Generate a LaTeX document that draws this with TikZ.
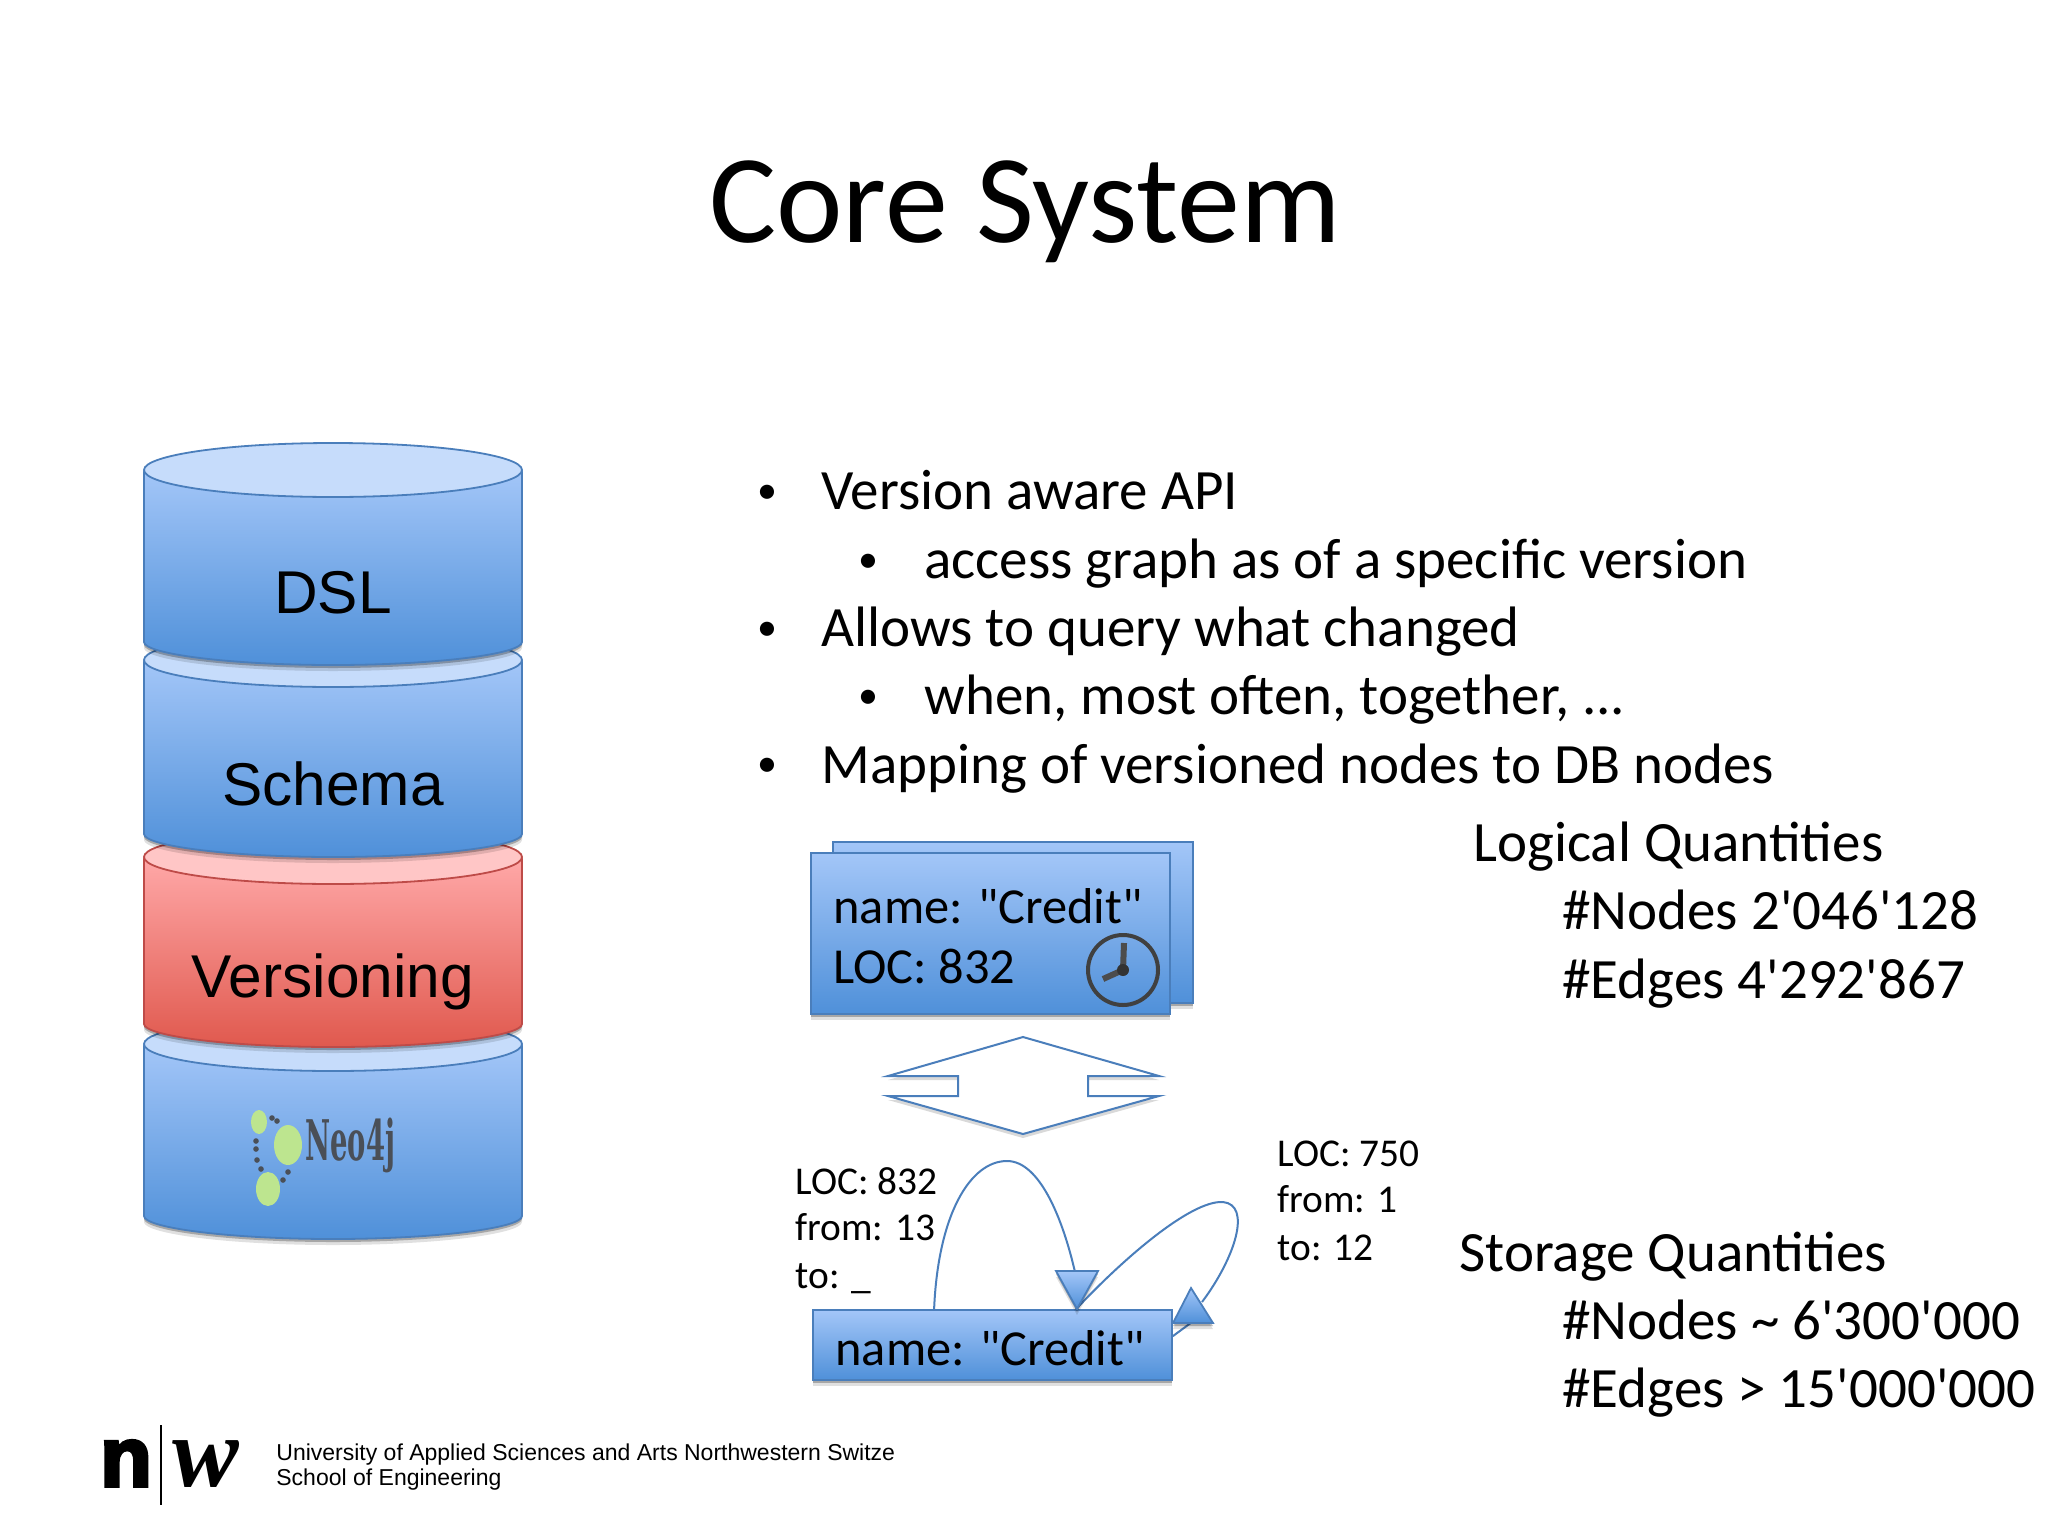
\documentclass[tikz,border=0pt]{standalone}
\usepackage{fontspec}
\usetikzlibrary{shadows,calc}
\newfontfamily\carl{Carlito}
\newfontfamily\arl{Liberation Sans}
\newfontfamily\tms{Liberation Serif}
\newfontfamily\dvs{DejaVu Serif}
\newfontfamily\heavy{Liberation Sans}[UprightFont=* Bold,FakeBold=4.5]
\definecolor{bluetop}{HTML}{A3C6F8}
\definecolor{bluebot}{HTML}{4F90D9}
\definecolor{blueln}{HTML}{4A7EBB}
\definecolor{bluecap}{HTML}{C6DCFB}
\definecolor{redtop}{HTML}{FFA8A8}
\definecolor{redbot}{HTML}{E0594E}
\definecolor{redln}{HTML}{BE4B48}
\definecolor{redcap}{HTML}{FFC6C6}
\definecolor{neogreen}{HTML}{BDE58F}
\definecolor{neotext}{HTML}{4A4F57}
\tikzset{
  softshadow/.style={
    drop shadow={shadow xshift=0pt,shadow yshift=-3pt,opacity=.12,fill=black},
    drop shadow={shadow xshift=0pt,shadow yshift=-1.5pt,opacity=.25,fill=black}},
  bluebody/.style={top color=bluetop,bottom color=bluebot,draw=blueln,line width=.9pt},
  redbody/.style={top color=redtop,bottom color=redbot,draw=redln,line width=.9pt},
  box/.style={bluebody,rectangle,inner sep=0pt,softshadow},
  txt/.style={anchor=base west,inner sep=0pt,text=black},
  body/.style={txt,font=\carl\fontsize{28.5}{28.5}\selectfont},
  dot/.style={txt,font=\carl\fontsize{20}{20}\selectfont},
  small/.style={txt,font=\carl\fontsize{19.7}{19.7}\selectfont},
  boxtxt/.style={txt,font=\carl\fontsize{25.2}{25.2}\selectfont},
  cyltxt/.style={anchor=base,inner sep=0pt,text=black,font=\arl\fontsize{30.2}{30.2}\selectfont},
  wire/.style={draw=blueln,line width=1pt},
  tip/.style={bluebody,softshadow},
  hollow/.style={draw=blueln,line width=1pt,fill=white,drop shadow={shadow xshift=0pt,shadow yshift=-2pt,opacity=.15,fill=black}},
}
% #1 side top, #2 side bottom, #3 body style, #4 line colour, #5 cap fill
\newcommand{\stackcyl}[5]{%
  \path[#3,softshadow,rounded corners=1pt] (144,#1) -- (144,#2) arc[start angle=180,end angle=360,x radius=94.5pt,y radius=12.5pt] -- (522,#1) -- cycle;
  \draw[draw=#4,line width=.9pt,fill=#5] (333,#1) ellipse[x radius=94.5pt,y radius=13.5pt];
}
\begin{document}
\begin{tikzpicture}[x=.5pt,y=-.5pt]
\useasboundingbox (0,0) rectangle (2048,1536);
\fill[white] (0,0) rectangle (2048,1536);

\node[txt,font=\carl\fontsize{63}{63}\selectfont] (title) at (709,242) {Core System};

% stacked cylinders
\stackcyl{1044}{1214}{bluebody}{blueln}{bluecap}
\stackcyl{857}{1022}{redbody}{redln}{redcap}
\stackcyl{660}{832}{bluebody}{blueln}{bluecap}
\stackcyl{470}{640}{bluebody}{blueln}{bluecap}
\node[cyltxt] (dsl) at (333,613) {DSL};
\node[cyltxt] (schema) at (333,805) {Schema};
\node[cyltxt] (versioning) at (333,997) {Versioning};

% Neo4j logo
\fill[neogreen] (259,1122) ellipse[x radius=4pt,y radius=6pt];
\fill[neogreen] (288,1145) ellipse[x radius=7pt,y radius=10pt];
\fill[neogreen] (268,1189) ellipse[x radius=6pt,y radius=8.5pt];
\foreach \a/\b in {272/1118,277/1121,256/1141,256/1149,257/1160,261/1169,283/1180,288/1172}
  \fill[neotext] (\a,\b) circle[radius=1.4pt];
\node[anchor=base west,inner sep=0pt,text=neotext] (neo) at (305,1160) {\scalebox{.49}[1]{\dvs\bfseries\fontsize{28}{28}\selectfont Neo4j}};

% bullets
\node[dot] (b1) at (757,503) {•};
\node[body] (l1) at (821,509) {Version aware API};
\node[dot] (b2) at (858,572) {•};
\node[body] (l2) at (924,578) {access graph as of a specific version};
\node[dot] (b3) at (757,640) {•};
\node[body] (l3) at (821,646) {Allows to query what changed};
\node[dot] (b4) at (858,708) {•};
\node[body] (l4) at (924,714) {when, most often, together, ...};
\node[dot] (b5) at (757,776) {•};
\node[body] (l5) at (821,783) {Mapping of versioned nodes to DB nodes};

% quantities
\node[body] (q1) at (1473,861) {Logical Quantities};
\node[body] (q2) at (1562,929) {\#Nodes 2'046'128};
\node[body] (q3) at (1562,998) {\#Edges 4'292'867};
\node[body] (q4) at (1459,1271) {Storage Quantities};
\node[body] (q5) at (1562,1339) {\#Nodes \char`\~{} 6'300'000};
\node[body] (q6) at (1562,1407) {\#Edges > 15'000'000};

% versioned node
\node[box,minimum width=180pt,minimum height=80.5pt] (back) at (1013,922.5) {};
\node[box,minimum width=179.5pt,minimum height=80.5pt] (front) at (990.5,933.5) {};
\node[boxtxt] (n1) at (833,923) {name: "Credit"};
\node[boxtxt] (n2) at (833,983) {LOC: 832};
\node[circle,draw=black!75,line width=2pt,minimum size=35pt,inner sep=0pt] (clock) at (1123,970) {};
\coordinate (hand1) at (1124,943);
\coordinate (hand2) at (1103,979);
\draw[black!70,line width=3pt] (hand1) -- (clock.center) -- (hand2);
\fill[black!80] (clock.center) circle[radius=3pt];

% double arrow
\path[hollow,line join=miter] (888,1076) -- (1023,1037) -- (1159,1076) -- (1088,1076) -- (1088,1096) -- (1159,1096) -- (1023,1134) -- (888,1096) -- (958,1096) -- (958,1076) -- cycle;

% DB node
\node[box,minimum width=179.5pt,minimum height=35pt] (db) at (992.5,1345) {};
\node[boxtxt] (n3) at (835,1365) {name: "Credit"};
\coordinate (a1) at ($(db.north west)+(122,0)$);
\coordinate (a2) at ($(db.north west)+(264,0)$);
\coordinate (a3) at ($(db.north east)+(0,27)$);
\draw[wire] (a1) .. controls (938,1215) and (970,1161) .. (1007,1161) .. controls (1040,1161) and (1063,1220) .. (1075,1272);
\draw[wire] (a2) .. controls (1120,1262) and (1190,1200) .. (1223,1202) .. controls (1252,1205) and (1235,1258) .. (1202,1302);
\draw[wire] (a3) -- (1192,1322);
\path[tip] (1056,1271) -- (1098,1271) -- (1077,1309) -- cycle;
\path[tip] (1191,1288) -- (1213,1323) -- (1173,1323) -- cycle;

\node[small] (s1) at (795,1194) {LOC: 832};
\node[small] (s2) at (795,1240) {from: 13};
\node[small] (s3) at (795,1288) {to: \_};
\node[small] (s4) at (1277,1166) {LOC: 750};
\node[small] (s5) at (1277,1212) {from: 1};
\node[small] (s6) at (1277,1260) {to: 12};

% footer logo
\node[anchor=base west,inner sep=0pt,font=\heavy\fontsize{42}{42}\selectfont] (logon) at (100,1486) {n};
\coordinate (bar1) at (161,1425);
\coordinate (bar2) at (161,1505);
\draw[black,line width=1.1pt] (bar1) -- (bar2);
\node[anchor=base west,inner sep=0pt,font=\tms\itshape\bfseries\fontsize{50}{50}\selectfont] (logow) at (172,1486) {w};
\node[anchor=base west,inner sep=0pt,font=\arl\fontsize{11.5}{11.5}\selectfont] (f1) at (276,1460) {University of Applied Sciences and Arts Northwestern Switze};
\node[anchor=base west,inner sep=0pt,font=\arl\fontsize{11.5}{11.5}\selectfont] (f2) at (276,1485) {School of Engineering};
\end{tikzpicture}
\end{document}
